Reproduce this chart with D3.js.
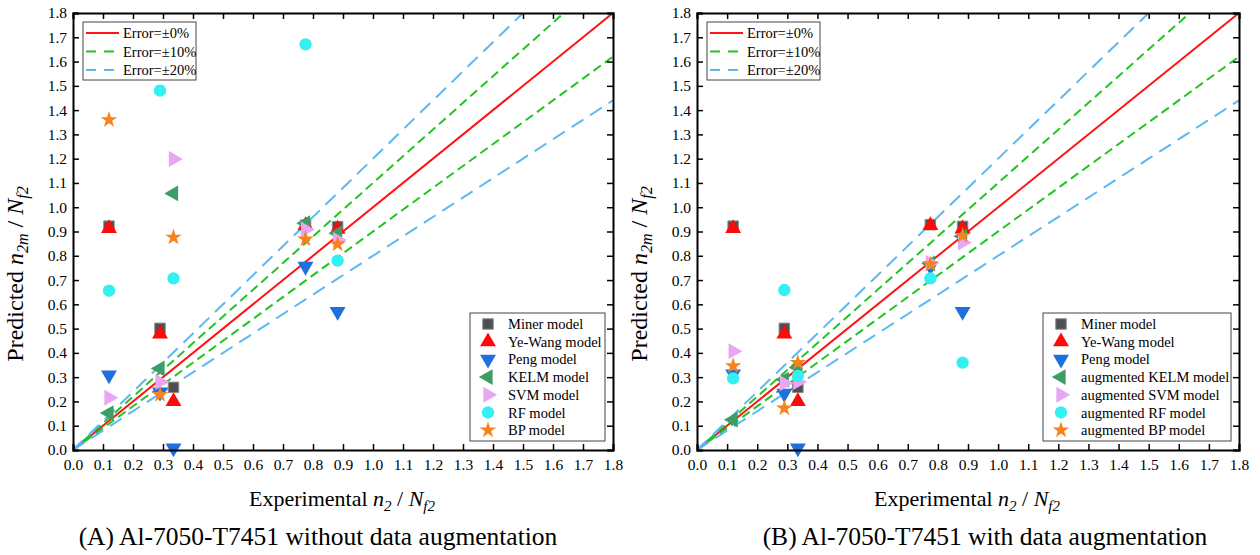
<!DOCTYPE html>
<html>
<head>
<meta charset="utf-8">
<script src="https://cdn.jsdelivr.net/npm/d3@7"></script>
<style>
  body { margin: 0; background: #fff; }
  text { font-family: "Liberation Serif", "DejaVu Serif", serif; fill: #000; }
</style>
</head>
<body>
<svg id="fig" width="1260" height="555"></svg>
<script>
// experimental n2/Nf2 values (shared by both panels)
var expX = [0.12, 0.29, 0.335, 0.775, 0.882];

var ticks = d3.range(0, 19).map(function (i) { return i / 10; });

// panel A: without augmentation
var minerA  = [0.922, 0.501, 0.258, 0.926, 0.920];
var yeWangA = [0.913, 0.478, 0.200, 0.925, 0.910];
var pengA   = [0.309, 0.238, 0.008, 0.756, 0.570];
var kelmA   = [0.152, 0.336, 1.057, 0.934, 0.893];
var svmA    = [0.215, 0.280, 1.199, 0.908, 0.865];
var rfA     = [0.656, 1.480, 0.707, 1.671, 0.780];
var bpA     = [1.360, 0.228, 0.876, 0.868, 0.848];

// panel B: with augmentation
var minerB  = [0.922, 0.501, 0.258, 0.928, 0.921];
var yeWangB = [0.913, 0.478, 0.200, 0.925, 0.912];
var pengB   = [0.313, 0.233, 0.008, 0.756, 0.570];
var kelmB   = [0.125, 0.290, 0.340, 0.768, 0.880];
var svmB    = [0.407, 0.275, 0.280, 0.770, 0.855];
var rfB     = [0.295, 0.659, 0.305, 0.707, 0.360];
var bpB     = [0.346, 0.172, 0.360, 0.765, 0.883];

var namesA = ["Miner model", "Ye-Wang model", "Peng model", "KELM model", "SVM model", "RF model", "BP model"];
var namesB = ["Miner model", "Ye-Wang model", "Peng model", "augmented KELM model", "augmented SVM model", "augmented RF model", "augmented BP model"];

// error bands: slope of each reference line
var errSlopes = [1, 1.1, 0.9, 1.2, 0.8];
var errNames = ["Error=\u00b10%", "Error=\u00b110%", "Error=\u00b120%"];

var svg = d3.select("#fig");

// marker styles in series order
var markers = [
  {shape: d3.symbolSquare,   rot: 0,   size: 110, fill: "#4f4f4f", stroke: "#8a8a8a"},
  {shape: d3.symbolTriangle, rot: 0,   size: 110, fill: "#ff0a0a", stroke: "none"},
  {shape: d3.symbolTriangle, rot: 180, size: 110, fill: "#1f6fdc", stroke: "none"},
  {shape: d3.symbolTriangle, rot: -90, size: 110, fill: "#3c9e64", stroke: "none"},
  {shape: d3.symbolTriangle, rot: 90,  size: 110, fill: "#e8a6f4", stroke: "none"},
  {shape: d3.symbolCircle,   rot: 0,   size: 120, fill: "#35f0f2", stroke: "none"},
  {shape: d3.symbolStar,     rot: 0,   size: 85,  fill: "#f7821e", stroke: "none"}
];

var lineStyles = [
  {color: "#ff1414", dash: null},
  {color: "#22c422", dash: "9,5"},
  {color: "#5cb8f2", dash: "14,8"}
];

function sub(t, main, s, fs) {
  t.append("tspan").style("font-style", "italic").text(main);
  t.append("tspan").style("font-style", "italic").style("font-size", fs + "px").attr("dy", 5).text(s);
}

function drawPanel(opt) {
  var x = d3.scaleLinear().domain([0, 1.8]).range([opt.x0, opt.x1]);
  var y = d3.scaleLinear().domain([0, 1.8]).range([450, 13]);
  var g = svg.append("g");

  g.append("clipPath").attr("id", "clip" + opt.id)
    .append("rect")
    .attr("x", x(0)).attr("y", y(1.8))
    .attr("width", x(1.8) - x(0)).attr("height", y(0) - y(1.8));

  // reference lines
  var lg = g.append("g").attr("clip-path", "url(#clip" + opt.id + ")");
  errSlopes.forEach(function (s, i) {
    var st = lineStyles[Math.ceil(i / 2)];
    lg.append("line")
      .attr("x1", x(0)).attr("y1", y(0))
      .attr("x2", x(1.8)).attr("y2", y(1.8 * s))
      .attr("stroke", st.color)
      .attr("stroke-width", 2)
      .attr("stroke-dasharray", st.dash);
  });

  // points
  opt.series.forEach(function (vals, si) {
    var m = markers[si];
    g.selectAll(null).data(vals).enter()
      .append("path")
      .attr("d", d3.symbol().type(m.shape).size(m.size))
      .attr("transform", function (d, i) {
        return "translate(" + x(expX[i]) + "," + y(d) + ") rotate(" + m.rot + ")";
      })
      .attr("fill", m.fill)
      .attr("stroke", m.stroke)
      .attr("stroke-width", 1);
  });

  // frame with inner ticks on all four sides
  var axB = d3.axisBottom(x).tickValues(ticks).tickSize(-6).tickFormat(d3.format(".1f"));
  var axL = d3.axisLeft(y).tickValues(ticks).tickSize(-6).tickFormat(d3.format(".1f"));
  var axT = d3.axisTop(x).tickValues(ticks).tickSize(-6).tickFormat("");
  var axR = d3.axisRight(y).tickValues(ticks).tickSize(-6).tickFormat("");

  var axes = [[axB, "translate(0,450)"], [axL, "translate(" + opt.x0 + ",0)"],
              [axT, "translate(0,13)"], [axR, "translate(" + opt.x1 + ",0)"]];
  axes.forEach(function (a, k) {
    var ag = g.append("g").attr("transform", a[1]).call(a[0]);
    ag.select(".domain").attr("stroke", "#000").attr("stroke-width", 2);
    ag.selectAll(".tick line").attr("stroke", "#000").attr("stroke-width", 1.5);
    ag.selectAll(".tick text").style("font-size", "15.5px").attr("fill", "#000");
    if (k === 0) ag.selectAll(".tick text").attr("y", 9);
    if (k === 1) ag.selectAll(".tick text").attr("x", -6);
  });

  // axis titles
  var xt = g.append("text")
    .attr("x", (opt.x0 + opt.x1) / 2 - 1).attr("y", 506)
    .attr("text-anchor", "middle").style("font-size", "22px");
  xt.append("tspan").text("Experimental ");
  sub(xt, "n", "2", 15);
  xt.append("tspan").attr("dy", -5).text(" / ");
  sub(xt, "N", "f2", 15);

  var yt = g.append("text")
    .attr("transform", "translate(" + (opt.x0 - 50) + ",274) rotate(-90)")
    .attr("text-anchor", "middle").style("font-size", "24px");
  yt.append("tspan").text("Predicted ");
  sub(yt, "n", "2m", 16);
  yt.append("tspan").attr("dy", -5).text(" / ");
  sub(yt, "N", "f2", 16);

  g.append("text")
    .attr("x", opt.capX).attr("y", 545)
    .attr("text-anchor", "middle").style("font-size", "25.5px")
    .text(opt.caption);

  // line legend
  var l1 = g.append("g").attr("transform", "translate(" + (opt.x0 + 10) + ",22)");
  l1.append("rect").attr("width", opt.l1w).attr("height", 58)
    .attr("fill", "#fff").attr("stroke", "#444").attr("stroke-width", 1);
  errNames.forEach(function (n, i) {
    var st = lineStyles[i];
    l1.append("line").attr("x1", 3).attr("x2", 36)
      .attr("y1", 11 + i * 18.5).attr("y2", 11 + i * 18.5)
      .attr("stroke", st.color).attr("stroke-width", 2)
      .attr("stroke-dasharray", st.dash ? "10,8" : null);
    l1.append("text").attr("x", 40).attr("y", 11 + i * 18.5)
      .attr("dominant-baseline", "central").style("font-size", "14.5px").text(n);
  });

  // marker legend
  var l2 = g.append("g").attr("transform", "translate(" + opt.l2x + ",313)");
  l2.append("rect").attr("width", opt.l2w).attr("height", 128)
    .attr("fill", "#fff").attr("stroke", "#444").attr("stroke-width", 1);
  opt.names.forEach(function (n, i) {
    var m = markers[i];
    var yy = 11 + i * 17.7;
    l2.append("path")
      .attr("d", d3.symbol().type(m.shape).size(m.size))
      .attr("transform", "translate(18," + yy + ") rotate(" + m.rot + ")")
      .attr("fill", m.fill).attr("stroke", m.stroke);
    l2.append("text").attr("x", 38).attr("y", yy)
      .attr("dominant-baseline", "central").style("font-size", "14.5px").text(n);
  });
}

drawPanel({id: "A", x0: 73, x1: 613, capX: 318,
  caption: "(A) Al-7050-T7451 without data augmentation",
  series: [minerA, yeWangA, pengA, kelmA, svmA, rfA, bpA],
  names: namesA, l1w: 113, l2x: 470, l2w: 135});

drawPanel({id: "B", x0: 697, x1: 1239, capX: 985,
  caption: "(B) Al-7050-T7451 with data augmentation",
  series: [minerB, yeWangB, pengB, kelmB, svmB, rfB, bpB],
  names: namesB, l1w: 113, l2x: 1043, l2w: 188});
</script>
</body>
</html>
